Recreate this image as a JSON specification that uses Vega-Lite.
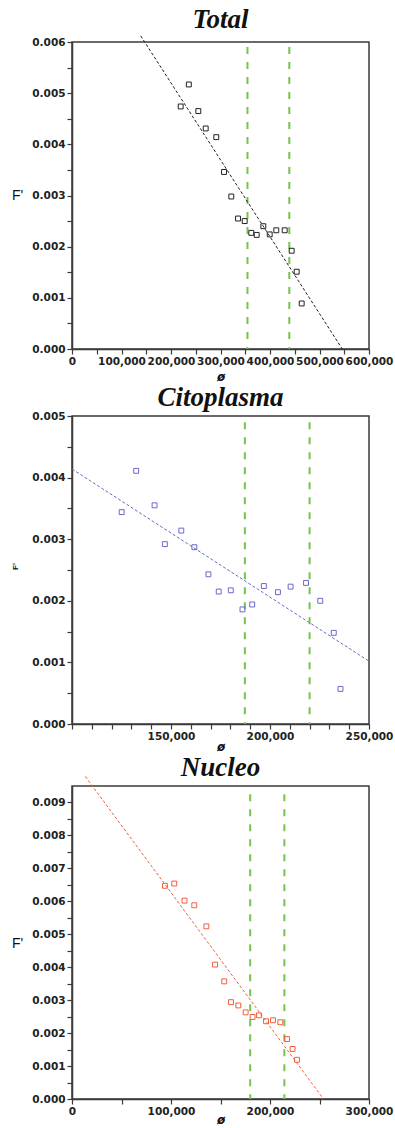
{
  "$schema": "https://vega.github.io/schema/vega-lite/v6.json",
  "background": "white",
  "padding": {"left": 10, "top": 5, "right": 0, "bottom": 0},
  "spacing": 0,
  "config": {
    "view": {"stroke": "#3a3a3a", "strokeWidth": 1.5},
    "axis": {"grid": false, "domainColor": "#3a3a3a", "domainWidth": 1.5, "tickColor": "#3a3a3a", "tickWidth": 1.2, "tickSize": 5,
      "labelFont": "DejaVu Sans", "labelFontWeight": "bold", "labelFontSize": 10.5, "labelColor": "#222",
      "labelOverlap": false, "labelFlush": false, "labelBound": false, "labelPadding": 2, "titleColor": "#111"},
    "title": {"font": "Liberation Serif", "fontStyle": "italic", "fontWeight": "bold", "fontSize": 27, "color": "#111", "anchor": "middle"}
  },
  "datasets": {
    "total_pts": [
      {"x": 236000, "y": 0.00517}, {"x": 219600, "y": 0.00474}, {"x": 255200, "y": 0.00465}, {"x": 270100, "y": 0.00431},
      {"x": 291500, "y": 0.00414}, {"x": 307100, "y": 0.00346}, {"x": 321800, "y": 0.00298}, {"x": 335400, "y": 0.00255},
      {"x": 348900, "y": 0.00250}, {"x": 362200, "y": 0.00227}, {"x": 373100, "y": 0.00223}, {"x": 386500, "y": 0.00240},
      {"x": 399400, "y": 0.00224}, {"x": 412700, "y": 0.00232}, {"x": 429700, "y": 0.00232}, {"x": 443800, "y": 0.00192},
      {"x": 453900, "y": 0.00151}, {"x": 464000, "y": 0.00089}
    ],
    "total_fit": [{"x": 138800, "y": 0.00612}, {"x": 546000, "y": 0.0}],
    "total_cut": [{"x": 354500, "y": 0.0059, "y0": 0}, {"x": 439000, "y": 0.0059, "y0": 0}],
    "cito_pts": [
      {"x": 125100, "y": 0.00344}, {"x": 132400, "y": 0.00411}, {"x": 141700, "y": 0.00355}, {"x": 146900, "y": 0.00292},
      {"x": 155200, "y": 0.00314}, {"x": 161800, "y": 0.00287}, {"x": 168900, "y": 0.00243}, {"x": 174100, "y": 0.00215},
      {"x": 180200, "y": 0.00217}, {"x": 186100, "y": 0.00186}, {"x": 191000, "y": 0.00194}, {"x": 196900, "y": 0.00224},
      {"x": 204000, "y": 0.00214}, {"x": 210400, "y": 0.00223}, {"x": 218200, "y": 0.00229}, {"x": 225400, "y": 0.00200},
      {"x": 232200, "y": 0.00148}, {"x": 235600, "y": 0.00057}
    ],
    "cito_fit": [{"x": 100000, "y": 0.00414}, {"x": 250000, "y": 0.00102}],
    "cito_cut": [{"x": 187300, "y": 0.0049, "y0": 0}, {"x": 220000, "y": 0.0049, "y0": 0}],
    "nucleo_pts": [
      {"x": 93900, "y": 0.00647}, {"x": 103300, "y": 0.00654}, {"x": 113700, "y": 0.00602}, {"x": 123500, "y": 0.00588},
      {"x": 135700, "y": 0.00524}, {"x": 144500, "y": 0.00408}, {"x": 153800, "y": 0.00357}, {"x": 160600, "y": 0.00294},
      {"x": 168000, "y": 0.00284}, {"x": 175400, "y": 0.00263}, {"x": 182400, "y": 0.00249}, {"x": 188900, "y": 0.00254},
      {"x": 196000, "y": 0.00236}, {"x": 203000, "y": 0.00239}, {"x": 210400, "y": 0.00233}, {"x": 217200, "y": 0.00182},
      {"x": 222800, "y": 0.00152}, {"x": 227300, "y": 0.00119}
    ],
    "nucleo_fit": [{"x": 13400, "y": 0.00979}, {"x": 254000, "y": 0.0}],
    "nucleo_cut": [{"x": 180000, "y": 0.00925, "y0": 0}, {"x": 214500, "y": 0.00925, "y0": 0}]
  },
  "vconcat": [
    {
      "title": {"text": "Total", "offset": 0},
      "width": 297, "height": 307,
      "encoding": {
        "x": {"field": "x", "type": "quantitative", "scale": {"domain": [0, 600000], "nice": false},
          "axis": {"values": [0, 50000, 100000, 150000, 200000, 250000, 300000, 350000, 400000, 450000, 500000, 550000, 600000],
            "labelExpr": "datum.value % 100000 === 0 ? format(datum.value, ',') : ''",
            "title": "ø", "titleFont": "DejaVu Sans", "titleFontWeight": "bold", "titleFontStyle": "italic", "titleFontSize": 12, "titleY": 27, "titleBaseline": "middle"}},
        "y": {"field": "y", "type": "quantitative", "scale": {"domain": [0, 0.006], "nice": false},
          "axis": {"values": [0, 0.0005, 0.001, 0.0015, 0.002, 0.0025, 0.003, 0.0035, 0.004, 0.0045, 0.005, 0.0055, 0.006],
            "labelExpr": "abs(datum.value*1000 - round(datum.value*1000)) < 0.001 ? format(datum.value, '.3f') : ''",
            "title": "F'", "titleAngle": 0, "titleX": -55, "titleY": 153, "titleAlign": "center", "titleBaseline": "middle",
            "titleFont": "Liberation Sans", "titleFontSize": 14, "titleFontWeight": "normal"}}
      },
      "layer": [
        {"data": {"name": "total_cut"}, "mark": {"type": "rule", "color": "#74c54a", "strokeWidth": 2, "strokeDash": [7, 8]},
          "encoding": {"y2": {"field": "y0"}}},
        {"data": {"name": "total_fit"}, "mark": {"type": "line", "color": "#222", "strokeWidth": 1, "strokeDash": [3, 2], "clip": false},
          "encoding": {}},
        {"data": {"name": "total_pts"}, "mark": {"type": "point", "shape": "square", "filled": false, "size": 24, "strokeWidth": 1, "color": "#222", "opacity": 1},
          "encoding": {}}
      ]
    },
    {
      "title": {"text": "Citoplasma", "offset": -1},
      "width": 297, "height": 308,
      "encoding": {
        "x": {"field": "x", "type": "quantitative", "scale": {"domain": [100000, 250000], "nice": false, "zero": false},
          "axis": {"values": [100000, 110000, 120000, 130000, 140000, 150000, 160000, 170000, 180000, 190000, 200000, 210000, 220000, 230000, 240000, 250000],
            "labelExpr": "datum.value % 50000 === 0 && datum.value > 100000 ? format(datum.value, ',') : ''",
            "title": "ø", "titleFont": "DejaVu Sans", "titleFontWeight": "bold", "titleFontStyle": "italic", "titleFontSize": 12, "titleY": 22, "titleBaseline": "middle"}},
        "y": {"field": "y", "type": "quantitative", "scale": {"domain": [0, 0.005], "nice": false},
          "axis": {"values": [0, 0.0005, 0.001, 0.0015, 0.002, 0.0025, 0.003, 0.0035, 0.004, 0.0045, 0.005],
            "labelExpr": "abs(datum.value*1000 - round(datum.value*1000)) < 0.001 ? format(datum.value, '.3f') : ''",
            "title": "F'", "titleAngle": -90, "titleX": -57, "titleY": 150, "titleAlign": "center", "titleBaseline": "middle",
            "titleFont": "Liberation Sans", "titleFontSize": 8, "titleFontWeight": "bold"}}
      },
      "layer": [
        {"data": {"name": "cito_cut"}, "mark": {"type": "rule", "color": "#74c54a", "strokeWidth": 2, "strokeDash": [7, 8]},
          "encoding": {"y2": {"field": "y0"}}},
        {"data": {"name": "cito_fit"}, "mark": {"type": "line", "color": "#6a6ac8", "strokeWidth": 1, "strokeDash": [3, 2], "clip": false},
          "encoding": {}},
        {"data": {"name": "cito_pts"}, "mark": {"type": "point", "shape": "square", "filled": false, "size": 24, "strokeWidth": 1, "color": "#6a6ac8", "opacity": 1},
          "encoding": {}}
      ]
    },
    {
      "title": {"text": "Nucleo", "offset": -8},
      "width": 297, "height": 313,
      "encoding": {
        "x": {"field": "x", "type": "quantitative", "scale": {"domain": [0, 300000], "nice": false},
          "axis": {"values": [0, 50000, 100000, 150000, 200000, 250000, 300000],
            "labelExpr": "datum.value % 100000 === 0 ? format(datum.value, ',') : ''",
            "title": "ø", "titleFont": "DejaVu Sans", "titleFontWeight": "bold", "titleFontStyle": "italic", "titleFontSize": 12, "titleY": 20, "titleBaseline": "middle"}},
        "y": {"field": "y", "type": "quantitative", "scale": {"domain": [0, 0.0095], "nice": false},
          "axis": {"values": [0, 0.0005, 0.001, 0.0015, 0.002, 0.0025, 0.003, 0.0035, 0.004, 0.0045, 0.005, 0.0055, 0.006, 0.0065, 0.007, 0.0075, 0.008, 0.0085, 0.009],
            "labelExpr": "abs(datum.value*1000 - round(datum.value*1000)) < 0.001 ? format(datum.value, '.3f') : ''",
            "title": "F'", "titleAngle": 0, "titleX": -55, "titleY": 157, "titleAlign": "center", "titleBaseline": "middle",
            "titleFont": "Liberation Sans", "titleFontSize": 14, "titleFontWeight": "normal"}}
      },
      "layer": [
        {"data": {"name": "nucleo_cut"}, "mark": {"type": "rule", "color": "#74c54a", "strokeWidth": 2, "strokeDash": [7, 8]},
          "encoding": {"y2": {"field": "y0"}}},
        {"data": {"name": "nucleo_fit"}, "mark": {"type": "line", "color": "#f0603f", "strokeWidth": 1, "strokeDash": [3, 2], "clip": false},
          "encoding": {}},
        {"data": {"name": "nucleo_pts"}, "mark": {"type": "point", "shape": "square", "filled": false, "size": 24, "strokeWidth": 1, "color": "#f0603f", "opacity": 1},
          "encoding": {}}
      ]
    }
  ]
}
